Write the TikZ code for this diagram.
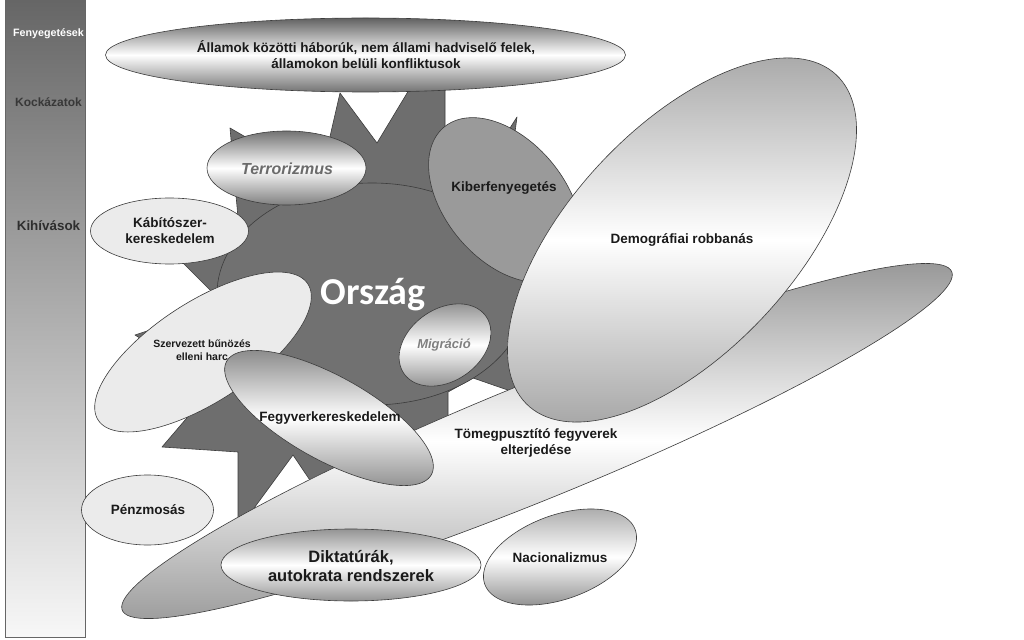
\documentclass[tikz,border=0pt]{standalone}
\usepackage{fontspec}
\setmainfont{Liberation Sans}
\newfontfamily\calfont{Carlito}
\definecolor{lc}{HTML}{3C3C3C}
\definecolor{starc}{HTML}{6E6E6E}
\definecolor{circc}{HTML}{717171}
\definecolor{lightf}{HTML}{EBEBEB}
\definecolor{kiberc}{HTML}{9A9A9A}
\definecolor{txt}{HTML}{1A1A1A}
% rotated ellipse as an untransformed path: cx, cy, a, b, angle
\newcommand\rellpath[5]{plot[domain=0:360, samples=144, variable=\t] ({#1+#3*cos(\t)*cos(#5)-#4*sin(\t)*sin(#5)}, {#2-#3*cos(\t)*sin(#5)-#4*sin(\t)*cos(#5)}) -- cycle}
\tikzset{
  outl/.style={draw=lc, line width=0.6pt, line join=round},
  vgrad/.style 2 args={outl, top color=#1, bottom color=#2, middle color=white},
  lbl/.style={font=\fontsize{13.5}{16}\selectfont\bfseries, text=txt, align=center, inner sep=0pt},
  barlbl/.style={font=\bfseries, align=center, inner sep=0pt}
}
\begin{document}
\begin{tikzpicture}[x=1pt, y=-1pt]
\useasboundingbox (0,0) rectangle (1024,639);
% left bar
\path[draw=gray!80!black, line width=0.6pt, top color=black!60, bottom color=black!3] (5,0) rectangle (85,637);
\node[barlbl, text=white, font=\fontsize{10.7}{12}\selectfont\bfseries] (fenye) at (48.5,34) {Fenyegetések};
\node[barlbl, text=black!78, font=\fontsize{12}{14}\selectfont\bfseries] (kock) at (48.5,102) {Kockázatok};
\node[barlbl, text=black!82, font=\fontsize{13.4}{15}\selectfont\bfseries] (kihiv) at (48.5,226) {Kihívások};
% star
\path[outl, fill=starc] (230,128) -- (320,180) -- (340,93) -- (377,143) -- (430,55) -- (445,55) -- (445,180) -- (480,175) -- (517,117) -- (510,170) -- (490,300) -- (525,396) -- (473,378) -- (448,392) -- (448,420) -- (440,445) -- (370,405) -- (330,510) -- (293,455) -- (238,530) -- (238,452) -- (162,447) -- (215,385) -- (135,335) -- (225,305) -- (165,245) -- (240,240) -- cycle;
% top ellipse
\path[vgrad={black!62}{black!55}] (365.5,55) ellipse [x radius=260, y radius=37];
\node[lbl] (allamok) at (366,55) {Államok közötti háborúk, nem állami hadviselő felek,\\államokon belüli konfliktusok};
% country
\path[outl, fill=circc] (372,294) ellipse [x radius=155, y radius=111];
\node[inner sep=0pt, text=white, font=\calfont\fontsize{38}{40}\selectfont\bfseries] (orszag) at (373,295) {Ország};
% terror
\path[vgrad={black!55}{black!50}] (286.5,168) ellipse [x radius=79.5, y radius=37];
\node[lbl, text=black!58, font=\fontsize{16}{18}\selectfont\bfseries\itshape] (terror) at (287,169) {Terrorizmus};
% drugs
\path[outl, fill=lightf] (169.5,231) ellipse [x radius=79, y radius=33];
\node[lbl] (kabito) at (170,231) {Kábítószer-\\kereskedelem};
% cyber
\path[outl, fill=kiberc] \rellpath{505}{200}{95}{60}{-50};
\node[lbl] (kiber) at (504,188) {Kiberfenyegetés};
% migration
\path[vgrad={black!42}{black!42}] \rellpath{445}{345}{50}{36}{35};
\node[lbl, text=black!50, font=\fontsize{13}{15}\selectfont\bfseries\itshape] (migr) at (444,345) {Migráció};
% WMD
\path[vgrad={black!40}{black!38}] \rellpath{537}{441}{448}{58}{22.2};
\node[lbl] (tomeg) at (536,443) {Tömegpusztító fegyverek\\elterjedése};
% organised crime
\path[outl, fill=lightf] \rellpath{203}{352}{125}{50}{33};
\node[lbl, font=\fontsize{10.5}{13}\selectfont\bfseries] (szerv) at (202,350) {Szervezett bűnözés\\elleni harc};
% arms trade
\path[vgrad={black!45}{black!42}] \rellpath{329}{418}{117}{42}{-29};
\node[lbl] (fegyver) at (330,418) {Fegyverkereskedelem};
% demography
\path[vgrad={black!33}{black!34}] \rellpath{682}{240}{226}{112}{47};
\node[lbl] (demo) at (682,240) {Demográfiai robbanás};
% dictatorships
\path[vgrad={black!42}{black!42}] (351,565) ellipse [x radius=130, y radius=36];
\node[lbl, font=\fontsize{16.5}{18.5}\selectfont\bfseries] (dikt) at (351,566) {Diktatúrák,\\autokrata rendszerek};
% nationalism
\path[vgrad={black!32}{black!42}] \rellpath{560}{557}{80}{42}{20};
\node[lbl] (nacio) at (560,558) {Nacionalizmus};
% money laundering
\path[outl, fill=lightf] (147.5,510) ellipse [x radius=66, y radius=35];
\node[lbl] (penz) at (148,510) {Pénzmosás};
\end{tikzpicture}
\end{document}
